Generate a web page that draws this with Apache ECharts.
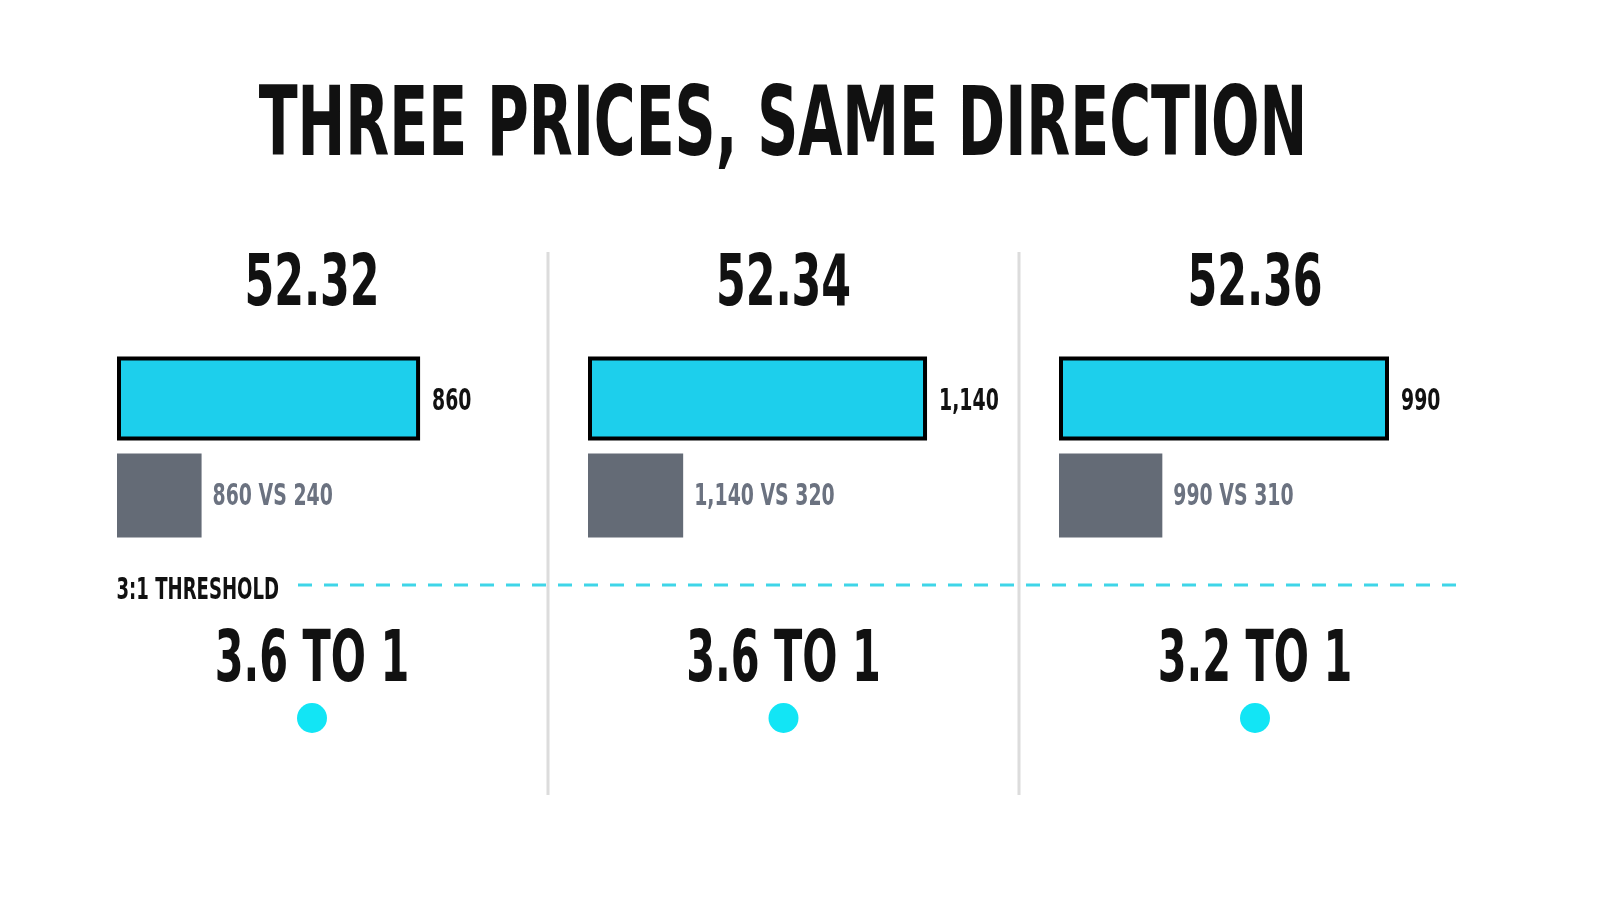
<!DOCTYPE html>
<html>
<head>
<meta charset="utf-8">
<script src="https://cdn.jsdelivr.net/npm/echarts@6/dist/echarts.min.js"></script>
<style>
    html, body { margin: 0; padding: 0; background: #fff; }
    #main { width: 1600px; height: 914px; }
</style>
</head>
<body>
<div id="main"></div>
<script>
const prices = ['52.32', '52.34', '52.36']
const bigValues = [860, 1140, 990]
const smallValues = [240, 320, 310]
const ratios = [3.6, 3.6, 3.2]
const threshold = 3
const thresholdLabel = '3:1 THRESHOLD'
const chartTitle = 'THREE PRICES, SAME DIRECTION'

// each panel has its own scale, like the source picture
const panelMax = [1135, 1345, 1200]

const FACE = '"DejaVu Sans Condensed", "Liberation Sans", sans-serif'
const BLUE = '#1dcfec'
const GREY = '#646b76'

// condensed text: the installed fonts are too wide, so squeeze them
function squeezed(text, x, y, size, sx, color, align) {
    return {
        type: 'text',
        x: x,
        y: y,
        scaleX: sx,
        silent: true,
        style: {
            text: text,
            fill: color,
            font: 'bold ' + size + 'px ' + FACE,
            align: align || 'center',
            verticalAlign: 'middle'
        }
    }
}

document.addEventListener('DOMContentLoaded', function () {
    const myChart = echarts.init(document.getElementById('main'))

    const panelLeft = [117, 588, 1059]
    const centers = [312, 783.5, 1255]

    const fmt = n => n.toLocaleString('en-US')

    const grids = panelLeft.map(left => ({ left: left, top: 350, width: 400, height: 194 }))
    // ratio grid: x = panel index, y = ratio 0..threshold
    grids.push({ left: 298, right: 136, top: 585, height: 133 })

    const xAxis = panelMax.map((max, i) => ({
        type: 'value', gridIndex: i, min: 0, max: max, show: false
    }))
    xAxis.push({ type: 'value', gridIndex: 3, min: -14 / 471.5, max: 1152 / 471.5, show: false })

    const yAxis = panelMax.map((m, i) => ({
        type: 'category', gridIndex: i, inverse: true, data: ['big', 'small'], show: false
    }))
    yAxis.push({ type: 'value', gridIndex: 3, min: 0, max: threshold, show: false })

    const series = []

    bigValues.forEach((big, i) => {
        series.push({
            type: 'bar',
            xAxisIndex: i,
            yAxisIndex: i,
            barWidth: 84,
            silent: true,
            data: [
                { value: big, itemStyle: { color: BLUE, borderColor: '#000', borderWidth: 4 } },
                { value: smallValues[i], itemStyle: { color: GREY } }
            ]
        })
        // value labels at the bar ends
        series.push({
            type: 'custom',
            xAxisIndex: i,
            yAxisIndex: i,
            silent: true,
            data: [[big, 0], [smallValues[i], 1]],
            renderItem: function (params, api) {
                const p = api.coord([api.value(0), api.value(1)])
                if (params.dataIndex === 0) {
                    return squeezed(fmt(big), p[0] + 12, p[1] + 4, 30, 0.7, '#111', 'left')
                }
                return squeezed(fmt(big) + ' VS ' + fmt(smallValues[i]), p[0] + 11, p[1] + 2, 30, 0.7, '#6b7280', 'left')
            }
        })
    })

    // threshold line
    series.push({
        type: 'custom',
        xAxisIndex: 3,
        yAxisIndex: 3,
        silent: true,
        data: [[0, threshold]],
        renderItem: function (params, api) {
            const cs = params.coordSys
            const y = api.coord([0, api.value(1)])[1]
            return {
                type: 'group',
                children: [
                    {
                        type: 'line',
                        shape: { x1: cs.x, y1: y, x2: cs.x + cs.width, y2: y },
                        style: { stroke: '#3fd5e8', lineWidth: 3, lineDash: [14, 12] }
                    },
                    squeezed(thresholdLabel, cs.x - 19, y + 6, 30, 0.67, '#111', 'right')
                ]
            }
        }
    })

    // ratio per panel with a marker dot
    series.push({
        type: 'custom',
        xAxisIndex: 3,
        yAxisIndex: 3,
        silent: true,
        data: ratios.map((r, i) => [i, 0, r]),
        renderItem: function (params, api) {
            const p = api.coord([api.value(0), api.value(1)])
            return {
                type: 'group',
                children: [
                    { type: 'circle', shape: { cx: p[0], cy: p[1], r: 15 }, style: { fill: '#12e5f5' } },
                    squeezed(api.value(2).toFixed(1) + ' TO 1', p[0], p[1] - 56, 72, 0.64, '#111')
                ]
            }
        }
    })

    const graphics = [squeezed(chartTitle, 783, 130, 96, 0.66, '#111')]
    prices.forEach((p, i) => graphics.push(squeezed(p, centers[i], 286, 72, 0.66, '#111')))
    ;[548, 1019].forEach(x => graphics.push({
        type: 'line',
        shape: { x1: x, y1: 252, x2: x, y2: 795 },
        style: { stroke: '#dcdcdc', lineWidth: 3 },
        silent: true
    }))

    const option = {
        backgroundColor: '#fff',
        animation: false,
        grid: grids,
        xAxis: xAxis,
        yAxis: yAxis,
        series: series,
        graphic: graphics
    }

    myChart.setOption(option)
})
</script>
</body>
</html>
